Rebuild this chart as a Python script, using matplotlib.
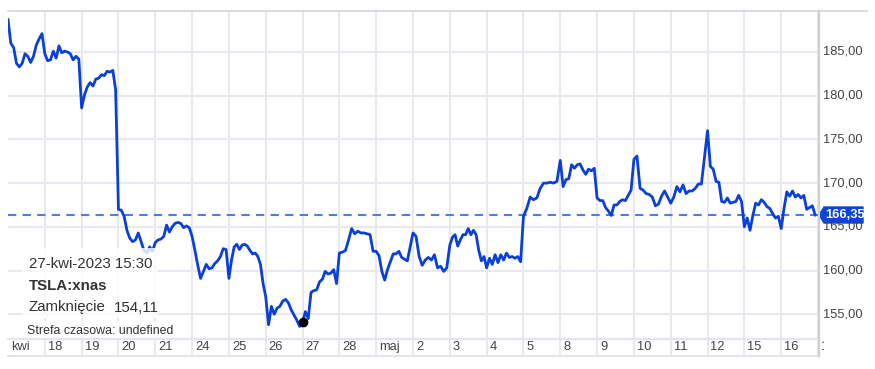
import numpy as np
import matplotlib
matplotlib.use("Agg")
import matplotlib.pyplot as plt
from matplotlib.patches import Rectangle, Polygon
from matplotlib.transforms import Bbox

plt.rcParams['font.family'] = ['Liberation Sans', 'DejaVu Sans']

# TSLA intraday prices, one list per trading session
apr17 = [188.7, 186.0, 185.5, 183.7, 183.3, 183.7, 184.8, 184.5, 183.8, 184.5, 185.8, 186.5, 187.1]
apr18 = [184.8, 184.0, 184.1, 185.1, 184.3, 185.7, 184.9, 185.1, 185.0, 184.8, 184.1, 184.5, 184.2]
apr19 = [178.6, 180.1, 181.0, 181.5, 181.1, 181.9, 182.0, 182.4, 182.3, 182.8, 182.7, 182.9, 180.7]
apr20 = [167.0, 166.9, 166.2, 164.6, 163.7, 163.3, 163.5, 164.3, 163.3, 162.3, 162.0, 162.7, 162.2]
apr21 = [163.2, 163.5, 163.6, 163.9, 165.2, 164.4, 165.0, 165.4, 165.5, 165.4, 164.9, 165.1, 164.9]
apr24 = [163.9, 162.3, 160.6, 159.1, 159.9, 160.7, 160.2, 160.3, 160.8, 161.1, 161.6, 162.5, 162.4]
apr25 = [159.1, 161.2, 162.7, 163.0, 162.4, 162.9, 163.0, 162.8, 162.3, 161.9, 162.0, 161.6, 160.7, 158.5]
apr26 = [157.0, 153.8, 155.9, 155.0, 155.7, 155.9, 156.5, 156.7, 156.3, 155.5, 154.9, 154.3, 153.6]
apr27 = [154.11, 155.3, 154.5, 157.5, 157.7, 157.8, 158.7, 159.0, 159.9, 159.6, 159.7, 160.1, 158.5]
apr28 = [162.0, 162.1, 162.3, 163.5, 164.8, 164.2, 164.5, 164.3, 164.3, 164.2, 164.1, 162.2]
may01 = [162.2, 161.7, 159.9, 158.9, 160.1, 161.0, 161.9, 161.9, 162.2, 161.5, 161.3, 161.1, 162.7]
may02 = [164.3, 163.9, 161.6, 160.6, 161.2, 161.5, 161.2, 161.8, 160.3, 160.5, 159.9, 160.3]
may03 = [162.9, 163.8, 164.1, 162.8, 163.5, 164.1, 164.1, 164.8, 164.1, 164.6, 164.1, 162.3, 161.1, 161.6]
may04 = [160.3, 161.4, 160.7, 161.8, 160.9, 161.8, 161.2, 162.0, 161.5, 161.6, 161.4, 161.6, 161.0]
may05 = [166.2, 167.1, 168.4, 168.1, 168.3, 169.4, 170.0, 170.0, 170.1, 170.0, 170.2]
may08 = [172.6, 169.6, 170.4, 170.5, 172.1, 171.7, 172.1, 172.2, 171.5, 171.0, 171.6, 171.4, 171.7]
may09 = [168.3, 168.0, 168.0, 167.2, 166.8, 166.3, 167.5, 167.5, 167.9, 168.1, 168.0, 168.6, 169.2]
may10 = [172.7, 173.1, 169.4, 169.2, 168.8, 168.7, 168.4, 167.4, 167.6, 168.5, 169.1, 168.4]
may11 = [167.7, 168.4, 169.6, 169.0, 169.8, 168.8, 169.1, 169.1, 169.4, 169.9, 169.9, 173.0]
may12 = [176.0, 171.9, 171.6, 170.2, 170.1, 167.9, 167.8, 168.3, 167.7, 167.8, 167.9, 168.6, 167.9]
may15 = [165.0, 166.0, 164.6, 166.3, 167.7, 167.5, 168.1, 167.8, 167.3, 167.1, 166.5, 166.0, 166.2]
may16 = [164.8, 167.1, 169.0, 168.5, 169.1, 168.4, 168.7, 168.3, 168.6, 167.0, 167.2, 167.4, 166.35]

sessions = [apr17, apr18, apr19, apr20, apr21, apr24, apr25, apr26, apr27, apr28,
            may01, may02, may03, may04, may05, may08, may09, may10, may11, may12,
            may15, may16]
day_labels = ['kwi', '18', '19', '20', '21', '24', '25', '26', '27', '28', 'maj',
              '2', '3', '4', '5', '8', '9', '10', '11', '12', '15', '16', '17']
yticks = [155, 160, 165, 170, 175, 180, 185]
last_price = 166.35
marked_session = 8  # 27-kwi, 15:30 open

W, H = 875, 369
fig = plt.figure(figsize=(W / 100, H / 100), dpi=100)


def fx(x):
    return x / W


def fy(y):
    return 1 - y / H


ax = fig.add_axes([fx(8), fy(338), fx(818) - fx(8), fy(11) - fy(338)])
ax.set_xlim(0, 22)
ax.set_ylim(152.28, 189.69)

xs, ys = [], []
for i, s in enumerate(sessions):
    n = len(s)
    xs.extend(i + np.arange(n) / n)
    ys.extend(s)

grid_c = '#e8e8ee'
for y in yticks:
    ax.axhline(y, color=grid_c, lw=1.5, zorder=0)
for i in range(1, 23):
    ax.axvline(i, color=grid_c, lw=1.5, zorder=0)

ax.plot(xs, ys, color='#0a3fd8', lw=2.0, zorder=3, solid_joinstyle='round')
ax.axhline(last_price, color='#4d7de8', lw=1.5, ls=(0, (4, 3)), zorder=2)
ax.plot(marked_session, sessions[marked_session][0], 'o', color='black', ms=6, zorder=4)

for sp in ax.spines.values():
    sp.set_visible(False)
ax.set_xticks([])
ax.set_yticks([])

# x label row
axl = fig.add_axes([fx(8), fy(356), fx(818) - fx(8), fy(338) - fy(356)])
axl.set_xlim(0, 22)
axl.set_ylim(0, 1)
for i in range(1, 23):
    axl.axvline(i, color=grid_c, lw=1.5)
for sp in axl.spines.values():
    sp.set_visible(False)
axl.set_xticks([])
axl.set_yticks([])
clip = Bbox.from_extents(0, 0, 824, H)
for i, lab in enumerate(day_labels):
    t = axl.text(i + 0.08, 0.5, lab, ha='left', va='center', fontsize=9.3, color='#444444')
    t.set_clip_box(clip)
    t.set_clip_on(True)

# frame lines
fig.add_artist(plt.Line2D([fx(8), fx(867)], [fy(11), fy(11)], color='#d4d4dc', lw=1.2))
fig.add_artist(plt.Line2D([fx(8), fx(818)], [fy(338.5), fy(338.5)], color='#e4e4ea', lw=1.5))
fig.add_artist(plt.Line2D([fx(8), fx(818)], [fy(355.5), fy(355.5)], color='#e4e4ea', lw=1.5))
fig.add_artist(plt.Line2D([fx(818.5), fx(818.5)], [fy(11), fy(356)], color='#cfcfd6', lw=1.6))

# y tick labels on the right
for y in yticks:
    yp = 338 - (y - 152.28) / (189.69 - 152.28) * 327
    fig.text(fx(823), fy(yp), f"{y:.2f}".replace('.', ','), ha='left', va='center',
             fontsize=9.3, color='#444444')

# current price tag
yp = 338 - (last_price - 152.28) / (189.69 - 152.28) * 327
tag = Polygon([(fx(819), fy(yp)), (fx(824), fy(yp - 8)), (fx(863), fy(yp - 8)),
               (fx(863), fy(yp + 8)), (fx(824), fy(yp + 8))],
              closed=True, transform=fig.transFigure, color='#0a44d8')
fig.add_artist(tag)
fig.text(fx(825), fy(yp), f"{last_price:.2f}".replace('.', ','), ha='left', va='center',
         fontsize=9.3, color='white', fontweight='bold')

# tooltip
fig.add_artist(Rectangle((fx(22), fy(318)), fx(158) - fx(22), fy(248) - fy(318),
                         transform=fig.transFigure, facecolor='white', alpha=0.82,
                         edgecolor='none'))
fig.add_artist(Rectangle((fx(24), fy(339)), fx(176) - fx(24), fy(321) - fy(339),
                         transform=fig.transFigure, facecolor='white', alpha=0.82,
                         edgecolor='none'))
tc = '#333333'
fig.text(fx(29), fy(263.5), '27-kwi-2023 15:30', ha='left', va='center', fontsize=10.8, color=tc)
fig.text(fx(29), fy(286), 'TSLA:xnas', ha='left', va='center', fontsize=10.8, color=tc,
         fontweight='bold')
fig.text(fx(29), fy(307.5), 'Zamknięcie', ha='left', va='center', fontsize=10.8, color=tc)
fig.text(fx(114), fy(307.5), '154,11', ha='left', va='center', fontsize=10.8, color=tc)
fig.text(fx(27), fy(330.5), 'Strefa czasowa: undefined', ha='left', va='center',
         fontsize=8.9, color=tc)

fig.savefig('out.png', dpi=100)
